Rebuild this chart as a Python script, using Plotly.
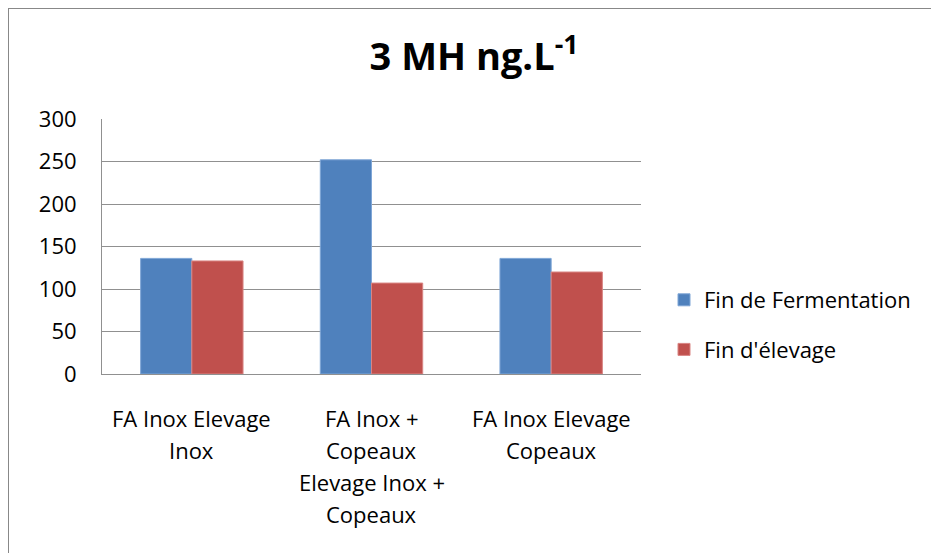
import plotly.graph_objects as go

categories = ["FA Inox Elevage<br>Inox",
              "FA Inox +<br>Copeaux<br>Elevage Inox +<br>Copeaux",
              "FA Inox Elevage<br>Copeaux"]
fin_fermentation = [136, 252, 136]
fin_elevage = [133, 107, 120]
series_names = ["Fin de Fermentation", "Fin d'élevage"]
y_ticks = [0, 50, 100, 150, 200, 250, 300]

FONT = "Open Sans, Noto Sans, DejaVu Sans, sans-serif"

fig = go.Figure()
fig.add_trace(go.Bar(x=categories, y=fin_fermentation, name=series_names[0],
                     marker=dict(color="#4F81BD", line=dict(color="#7FA6D6", width=1)),
                     legendgroup="a"))
fig.add_trace(go.Bar(x=categories, y=fin_elevage, name=series_names[1],
                     marker=dict(color="#C0504D", line=dict(color="#D98583", width=1)),
                     legendgroup="b"))

# page body has an 8px offset; the target pixel positions are compensated
OFF = 8
W, H = 939, 553
L, T = 102 - OFF, 119 - OFF
pw, ph = 539, 255
R, B = W - L - pw, H - T - ph

def px2x(px):
    return (px - OFF - L) / pw

def py2y(py):
    return (T + ph - (py - OFF)) / ph

# category labels, one annotation per text line (Excel-like line spacing)
annotations = []
for cat in categories:
    for j, line in enumerate(cat.split("<br>")):
        annotations.append(dict(x=cat, y=0, xref="x", yref="y", text=line,
                                showarrow=False, xanchor="center", yanchor="middle",
                                yshift=-(44 + 32 * j),
                                font=dict(family=FONT, size=22, color="#000000")))

fig.update_layout(
    width=W, height=H,
    margin=dict(l=L, r=R, t=T, b=B, pad=0),
    paper_bgcolor="white", plot_bgcolor="white",
    barmode="group", bargap=0.43, bargroupgap=0,
    font=dict(family=FONT, size=22, color="#000000"),
    title=dict(text="<b>3 MH ng.L<sup>-1</sup></b>", x=(474 - OFF) / W, xanchor="center",
               y=1 - (57 - OFF) / H, yanchor="middle",
               font=dict(family=FONT, size=38, color="#000000")),
    showlegend=True,
    legend=dict(x=px2x(664), y=py2y(325), xanchor="left", yanchor="middle",
                font=dict(family=FONT, size=22, color="#000000"),
                tracegroupgap=18, bgcolor="rgba(0,0,0,0)"),
    xaxis=dict(showline=True, linecolor="#909090", linewidth=1,
               ticks="", showgrid=False, showticklabels=False),
    yaxis=dict(range=[0, 300], tickvals=y_ticks, showline=True, linecolor="#909090",
               linewidth=1, showgrid=True, gridcolor="#909090", gridwidth=1,
               ticks="", ticklabelstandoff=20, zeroline=False,
               tickfont=dict(family=FONT, size=22, color="#000000")),
    annotations=annotations,
    shapes=[dict(type="rect", xref="paper", yref="paper",
                 x0=px2x(8), x1=px2x(960), y0=py2y(575), y1=py2y(8),
                 line=dict(color="#888888", width=2), fillcolor="rgba(0,0,0,0)",
                 layer="above")],
)

fig.write_html("out.html")
